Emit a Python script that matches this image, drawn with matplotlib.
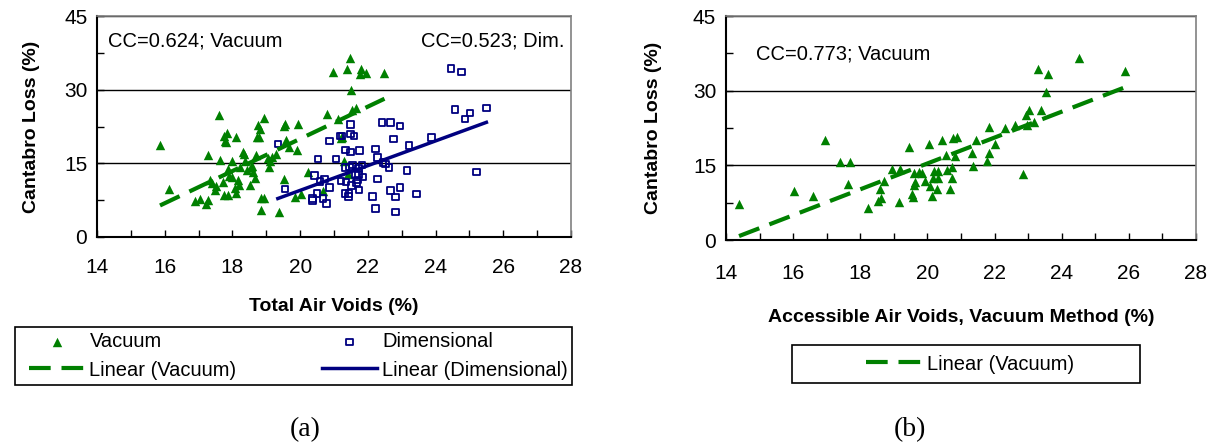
import numpy as np
import matplotlib
matplotlib.use("Agg")
import matplotlib.pyplot as plt
from matplotlib.ticker import MultipleLocator
from matplotlib.patches import Rectangle

plt.rcParams['font.family'] = ['Liberation Sans', 'DejaVu Sans']

# (a) Cantabro loss vs total air voids, vacuum method
vac_x = [15.86, 16.14, 16.88, 17.03, 17.23, 17.28, 17.28, 17.33, 17.41, 17.49,
         17.52, 17.61, 17.62, 17.72, 17.75, 17.77, 17.82, 17.85, 17.87, 17.90,
         17.75, 17.87, 17.98, 18.00, 18.11, 18.08, 18.10, 18.15, 18.18, 18.23,
         18.31, 18.35, 18.38, 18.44, 18.51, 18.54, 18.59, 18.61, 18.66, 18.69,
         18.71, 18.74, 18.79, 18.82, 18.84, 18.85, 18.94, 18.94, 19.06, 19.08,
         19.11, 19.16, 19.30, 19.37, 19.51, 19.53, 19.54, 19.58, 19.67, 19.84,
         19.91, 19.95, 20.02, 20.24, 20.68, 20.78, 20.98, 21.12, 21.22, 21.24,
         21.29, 21.37, 21.40, 21.46, 21.50, 21.52, 21.65, 21.76, 21.80, 21.93,
         22.49]
vac_y = [18.7, 9.7, 7.3, 7.8, 6.7, 7.5, 16.8, 11.6, 11.1, 9.5,
         10.3, 24.8, 15.7, 11.3, 20.6, 19.6, 19.3, 21.1, 13.8, 12.4,
         8.6, 8.6, 12.3, 15.4, 20.4, 9.9, 8.9, 11.6, 10.6, 14.3,
         17.4, 17.0, 15.5, 13.7, 10.6, 14.3, 14.5, 13.2, 12.0, 16.7,
         20.4, 22.8, 20.4, 22.1, 5.5, 7.9, 7.9, 24.2, 16.0, 14.3,
         15.4, 16.2, 17.0, 5.1, 11.8, 22.6, 23.1, 19.8, 18.4, 8.1,
         17.7, 23.0, 8.7, 13.3, 9.3, 25.0, 33.6, 24.0, 20.1, 20.4,
         15.4, 34.2, 12.9, 36.5, 29.9, 25.8, 26.2, 33.2, 34.2, 33.5,
         33.5]

# (a) Cantabro loss vs total air voids, dimensional method
dim_x = [19.34, 19.55, 20.37, 20.37, 20.42, 20.49, 20.53, 20.58, 20.68, 20.72,
         20.77, 20.86, 20.86, 21.06, 21.18, 21.24, 21.20, 21.32, 21.34, 21.34,
         21.36, 21.42, 21.44, 21.46, 21.49, 21.49, 21.49, 21.52, 21.54, 21.59,
         21.63, 21.67, 21.70, 21.72, 21.73, 21.74, 21.75, 21.83, 21.85, 22.13,
         22.23, 22.23, 22.29, 22.29, 22.42, 22.44, 22.52, 22.62, 22.67, 22.67,
         22.76, 22.82, 22.81, 22.95, 22.95, 23.16, 23.21, 23.44, 23.88, 24.46,
         24.76, 24.57, 24.87, 25.01, 25.21, 25.50]
dim_y = [18.9, 9.8, 7.8, 7.4, 12.5, 8.9, 15.9, 11.3, 7.8, 11.8,
         6.8, 19.6, 10.1, 15.9, 20.6, 20.6, 11.4, 8.9, 17.7, 14.2,
         11.2, 8.3, 8.9, 14.3, 22.9, 17.3, 21.0, 10.5, 14.7, 20.6,
         12.7, 11.0, 11.6, 14.0, 12.7, 9.6, 17.6, 14.7, 12.2, 8.2,
         17.9, 5.8, 16.2, 11.8, 23.3, 15.2, 14.9, 14.2, 23.3, 9.5,
         20.0, 8.1, 5.1, 22.6, 10.1, 13.5, 18.6, 8.8, 20.3, 34.3,
         33.6, 26.0, 24.0, 25.3, 13.2, 26.3]

# (b) Cantabro loss vs accessible air voids, vacuum method
acc_x = [14.39, 16.02, 16.60, 16.96, 17.39, 17.69, 17.64, 18.22, 18.52, 18.58,
         18.63, 18.71, 18.96, 19.17, 19.16, 19.46, 19.53, 19.56, 19.60, 19.63,
         19.60, 19.76, 19.84, 19.94, 20.05, 20.09, 20.15, 20.17, 20.19, 20.29,
         20.32, 20.32, 20.44, 20.55, 20.58, 20.68, 20.74, 20.74, 20.77, 20.82,
         20.88, 21.32, 21.36, 21.45, 21.77, 21.85, 21.85, 22.00, 22.31, 22.60,
         22.85, 22.94, 22.98, 23.03, 23.19, 23.29, 23.39, 23.53, 23.58, 24.51,
         25.89]
acc_y = [7.2, 9.8, 8.8, 20.1, 15.7, 15.7, 11.2, 6.5, 7.8, 10.2,
         8.5, 11.8, 14.2, 14.2, 7.6, 18.7, 9.2, 8.7, 11.0, 11.7,
         13.4, 13.7, 13.4, 11.8, 19.4, 10.8, 8.8, 12.5, 13.8, 10.2,
         13.8, 12.4, 20.1, 17.2, 14.0, 10.2, 14.7, 12.5, 20.5, 17.0,
         20.7, 17.5, 14.8, 20.1, 15.8, 22.7, 17.5, 19.4, 22.5, 23.1,
         13.2, 25.1, 23.1, 26.2, 23.7, 34.4, 26.1, 29.7, 33.3, 36.6,
         34.0]

# linear trendlines (slope, intercept)
fit_vac = (3.28, -45.6)
fit_dim = (2.52, -40.9)
fit_acc = (2.60, -36.6)

green = '#008000'
navy = '#000080'
dash = (0, (5.2, 2.6))
W, H = 1216, 448

fig = plt.figure(figsize=(12.16, 4.48), dpi=100)
ax1 = fig.add_axes([0.0798, 0.471, 0.3898, 0.493])
ax2 = fig.add_axes([0.597, 0.464, 0.3865, 0.500])


def style_axes(ax, xpad, xlabelpad, ylabelpad):
    ax.set_xlim(14, 28)
    ax.set_ylim(0, 45)
    ax.xaxis.set_major_locator(MultipleLocator(2))
    ax.xaxis.set_minor_locator(MultipleLocator(1))
    ax.yaxis.set_major_locator(MultipleLocator(15))
    ax.yaxis.set_minor_locator(MultipleLocator(7.5))
    ax.tick_params(axis='x', which='both', direction='in', length=5,
                   width=1, labelsize=15, pad=xpad, top=False)
    ax.tick_params(axis='y', which='both', direction='in', length=5,
                   width=1, labelsize=15, pad=7, right=False)
    ax.yaxis.grid(True, which='major', color='black', lw=1)
    ax.set_axisbelow(True)
    for s in ['left', 'bottom']:
        ax.spines[s].set_color('black')
        ax.spines[s].set_linewidth(1.5)
    for s in ['top', 'right']:
        ax.spines[s].set_color('#808080')
        ax.spines[s].set_linewidth(1.2)
    ax.set_ylabel('Cantabro Loss (%)', fontsize=14, fontweight='bold',
                  labelpad=ylabelpad)
    ax.xaxis.labelpad = xlabelpad


def frame_box(x0, y0, x1, y1):
    fig.patches.append(Rectangle((x0 / W, 1 - y1 / H), (x1 - x0) / W,
                                 (y1 - y0) / H, transform=fig.transFigure,
                                 fill=False, edgecolor='black', lw=1.2))


# panel (a)
h1 = ax1.scatter(vac_x, vac_y, marker='^', s=46, color=green, lw=0,
                 label='Vacuum', zorder=3)
h2 = ax1.scatter(dim_x, dim_y, marker='s', s=22, facecolor='none',
                 edgecolor=navy, lw=1.3, label='Dimensional', zorder=3)
xv = np.array([min(vac_x), max(vac_x)])
l1, = ax1.plot(xv, fit_vac[0] * xv + fit_vac[1], color=green, lw=3,
               ls=dash, label='Linear (Vacuum)', zorder=4)
xd = np.array([min(dim_x), max(dim_x)])
l2, = ax1.plot(xd, fit_dim[0] * xd + fit_dim[1], color=navy, lw=2.5,
               label='Linear (Dimensional)', zorder=4)
ax1.text(0.023, 0.887, 'CC=0.624; Vacuum', transform=ax1.transAxes,
         fontsize=14.5, va='center', ha='left')
ax1.text(0.987, 0.887, 'CC=0.523; Dim.', transform=ax1.transAxes,
         fontsize=14.5, va='center', ha='right')
ax1.set_xlabel('Total Air Voids (%)', fontsize=14, fontweight='bold')
style_axes(ax1, 15, 15, 17)

frame_box(15, 327, 572, 385)
fig.legend([h1, l1, h2, l2],
           ['Vacuum', 'Linear (Vacuum)', 'Dimensional', 'Linear (Dimensional)'],
           ncol=2, loc='center',
           bbox_to_anchor=(27 / W, 1 - 385 / H, 543 / W, 58 / H),
           mode='expand', fontsize=14.5, frameon=False,
           handlelength=2.75, handletextpad=0.25, borderpad=0.1,
           labelspacing=0.45, columnspacing=1.0, borderaxespad=0,
           scatterpoints=1)

# panel (b)
ax2.scatter(acc_x, acc_y, marker='^', s=46, color=green, lw=0, zorder=3)
xa = np.array([min(acc_x), max(acc_x)])
l3, = ax2.plot(xa, fit_acc[0] * xa + fit_acc[1], color=green, lw=3,
               ls=dash, label='Linear (Vacuum)', zorder=4)
ax2.text(0.064, 0.83, 'CC=0.773; Vacuum', transform=ax2.transAxes,
         fontsize=14.5, va='center', ha='left')
ax2.set_xlabel('Accessible Air Voids, Vacuum Method (%)', fontsize=14,
               fontweight='bold')
style_axes(ax2, 17, 19, 22)

frame_box(792, 345, 1140, 383)
fig.legend([l3], ['Linear (Vacuum)'], loc='center',
           bbox_to_anchor=(970 / W, 1 - 364 / H), fontsize=14.5,
           frameon=False, handlelength=2.75, handletextpad=0.25,
           borderpad=0.1, borderaxespad=0)

fig.text(305 / W, 1 - 430 / H, '(a)', fontsize=20, ha='center',
         va='center', family=['Liberation Serif', 'DejaVu Serif'])
fig.text(910 / W, 1 - 430 / H, '(b)', fontsize=20, ha='center',
         va='center', family=['Liberation Serif', 'DejaVu Serif'])

fig.savefig('out.png', dpi=100)
